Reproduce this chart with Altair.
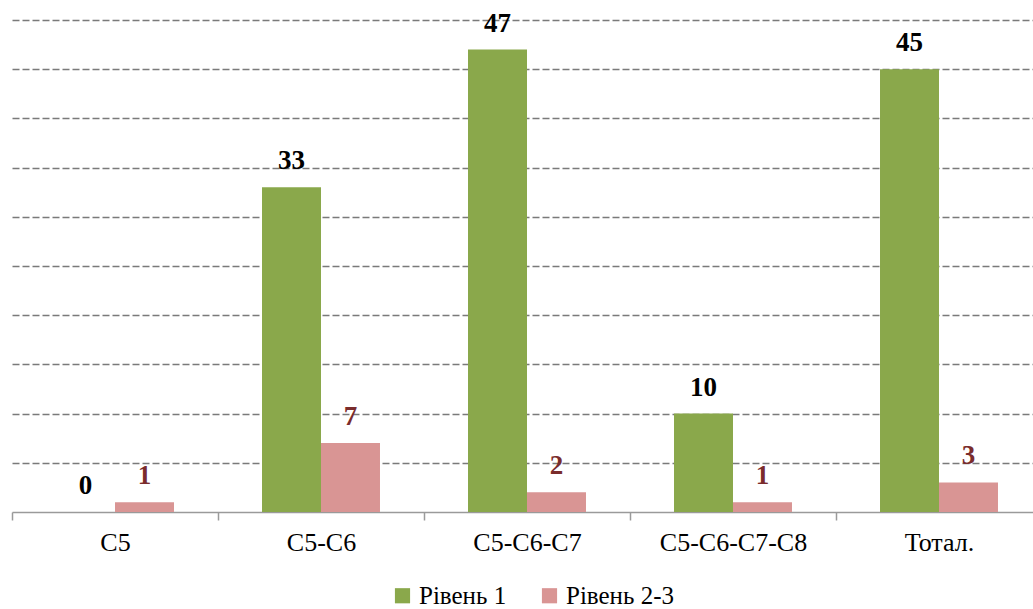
import altair as alt
import pandas as pd

# Categories, series and values
categories = ["C5", "C5-C6", "C5-C6-C7", "C5-C6-C7-C8", "Тотал."]
series = ["Рівень 1", "Рівень 2-3"]
level1 = [0, 33, 47, 10, 45]
level23 = [1, 7, 2, 1, 3]

bar_colors = ["#8aa84b", "#d99594"]
label_colors = ["#000000", "#7a2c2c"]

rows = []
for cat, a, b in zip(categories, level1, level23):
    rows.append({"cat": cat, "series": series[0], "value": a})
    rows.append({"cat": cat, "series": series[1], "value": b})
df = pd.DataFrame(rows)

FONT = "Liberation Serif"

x_enc = alt.X(
    "cat:N",
    sort=categories,
    title=None,
    scale=alt.Scale(range=[0, 1030], paddingInner=0, paddingOuter=0),
    axis=alt.Axis(
        labelAngle=0,
        labelFont=FONT,
        labelFontSize=26,
        labelColor="#000000",
        domainColor="#9a9a9a",
        domainWidth=1.5,
        tickColor="#9a9a9a",
        tickWidth=1.5,
        tickSize=8,
        tickBand="extent",
        labelPadding=9,
        grid=False,
    ),
)
xoff_enc = alt.XOffset(
    "series:N", sort=series, scale=alt.Scale(paddingInner=0, paddingOuter=0.746)
)
y_enc = alt.Y(
    "value:Q",
    title=None,
    scale=alt.Scale(domain=[0, 50], nice=False),
    axis=alt.Axis(
        values=[5, 10, 15, 20, 25, 30, 35, 40, 45, 50],
        labels=False,
        ticks=False,
        domain=False,
        grid=True,
        gridColor="#7a7a7a",
        gridWidth=1.6,
        gridDash=[7, 3],
    ),
)

bars = alt.Chart(df).mark_bar().encode(
    x=x_enc,
    xOffset=xoff_enc,
    y=y_enc,
    color=alt.Color(
        "series:N",
        sort=series,
        scale=alt.Scale(domain=series, range=bar_colors),
        legend=alt.Legend(
            title=None,
            orient="none",
            legendX=378,
            legendY=563,
            direction="horizontal",
            labelFont=FONT,
            labelFontSize=25,
            labelColor="#000000",
            symbolType="square",
            symbolSize=230,
            symbolStrokeWidth=0,
            labelOffset=4,
            columnPadding=30,
        ),
    ),
)

labels = alt.Chart(df).mark_text(
    font=FONT, fontSize=27, fontWeight="bold", baseline="alphabetic", dy=-18
).encode(
    x=alt.X("cat:N", sort=categories),
    xOffset=alt.XOffset("series:N", sort=series),
    y=alt.Y("value:Q"),
    text=alt.Text("value:Q"),
    color=alt.condition(
        alt.datum.series == series[0],
        alt.value(label_colors[0]),
        alt.value(label_colors[1]),
    ),
)

chart = (
    alt.layer(bars, labels)
    .properties(
        width=1021,
        height=492,
        autosize=alt.AutoSizeParams(type="none"),
        padding={"left": 12, "top": 20, "right": 0, "bottom": 97},
    )
    .configure(background="#ffffff")
    .configure_view(stroke=None)
)

chart.save("out.html", embed_options={"renderer": "svg", "actions": False})
